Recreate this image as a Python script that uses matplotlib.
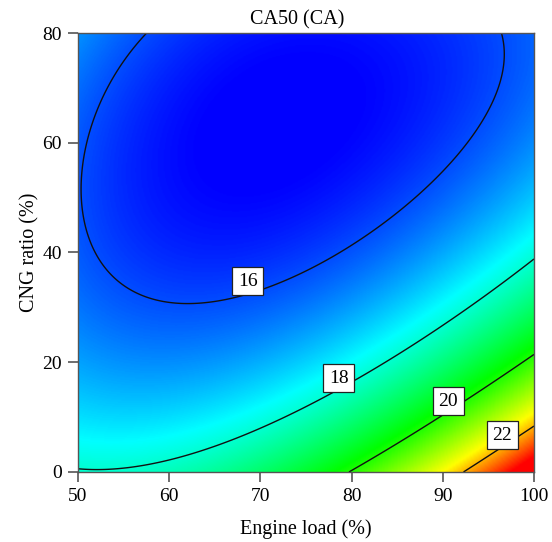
import numpy as np
import matplotlib.pyplot as plt
from matplotlib.colors import LinearSegmentedColormap

plt.rcParams['font.family'] = ['Liberation Serif', 'DejaVu Serif']

# contour lines (engine load %, CNG ratio %)
load_16 = [57.3, 53.5, 51.0, 50.2, 50.6, 52.2, 57.1, 62.3, 70.0, 75.4, 78.0, 85.0, 91.1, 94.1, 95.5, 96.3, 96.7, 96.6]
cng_16 = [80.0, 69.6, 62.3, 53.7, 46.0, 38.6, 33.2, 31.3, 33.5, 36.4, 38.6, 45.5, 56.3, 62.3, 68.3, 71.4, 76.0, 80.0]
load_18 = [50.0, 55.0, 60.1, 65.0, 70.0, 75.4, 80.4, 84.5, 88.9, 94.5, 99.9]
cng_18 = [0.4, 1.0, 2.2, 4.6, 8.0, 11.8, 16.2, 20.2, 24.6, 31.0, 38.6]
load_20 = [80.4, 83.5, 86.4, 91.5, 96.3, 100.0]
cng_20 = [0.0, 4.2, 8.2, 13.0, 18.0, 21.0]
load_22 = [93.2, 96.3, 100.0]
cng_22 = [0.0, 5.8, 8.0]
levels = [16, 18, 20, 22]

# values read from the shading at corners and at the minimum
spot_load = [50, 50, 100, 70]
spot_cng = [80, 0, 0, 58]
spot_val = [16.6, 18.05, 23.0, 15.3]

# label boxes
label_text = ['16', '18', '20', '22']
label_x = [68.6, 78.6, 90.6, 96.5]
label_y = [34.8, 17.1, 12.9, 6.7]

# colour stops (CA value, colour)
stop_vals = [15.3, 17.6, 19.8, 21.6, 23.0]
stop_cols = ['#0000ff', '#00ffff', '#00ff00', '#ffff00', '#ff0000']

xs = np.concatenate([load_16, load_18, load_20, load_22, spot_load])
ys = np.concatenate([cng_16, cng_18, cng_20, cng_22, spot_cng])
zs = np.concatenate([np.full(len(load_16), 16), np.full(len(load_18), 18),
                     np.full(len(load_20), 20), np.full(len(load_22), 22), spot_val])
w = np.ones(len(zs))
w[len(load_16) - 4:len(load_16)] = 4.0
w[-len(spot_val):-1] = 0.4

def terms(x, y):
    u = (np.asarray(x, float) - 75) / 25
    v = (np.asarray(y, float) - 40) / 40
    return np.stack([np.ones_like(u), u, v, u * u, v * v, u * v,
                     u ** 3, v ** 3, u * u * v, u * v * v], axis=-1)

coef, *_ = np.linalg.lstsq(terms(xs, ys) * w[:, None], zs * w, rcond=None)

gx, gy = np.meshgrid(np.linspace(50, 100, 400), np.linspace(0, 80, 400))
gz = terms(gx, gy) @ coef

vmin, vmax = stop_vals[0], stop_vals[-1]
nodes = [(v - vmin) / (vmax - vmin) for v in stop_vals]
cmap = LinearSegmentedColormap.from_list('rsm', list(zip(nodes, stop_cols)))

fig = plt.figure(figsize=(5.52, 5.42), dpi=100)
ax = fig.add_axes([0.1413, 0.1292, 0.8261, 0.8099])

ax.imshow(gz, extent=[50, 100, 0, 80], origin='lower', aspect='auto',
          cmap=cmap, vmin=vmin, vmax=vmax, interpolation='bilinear')
ax.contour(gx, gy, gz, levels=levels, colors='#111111', linewidths=1.0)
for t, lx, ly in zip(label_text, label_x, label_y):
    ax.text(lx, ly, t, fontsize=14, ha='center', va='center', zorder=5,
            bbox=dict(facecolor='white', edgecolor='#222222', linewidth=0.9, pad=4))

ax.set_xlim(50, 100)
ax.set_ylim(0, 80)
ax.set_xticks([50, 60, 70, 80, 90, 100])
ax.set_yticks([0, 20, 40, 60, 80])
ax.tick_params(direction='out', length=7.5, width=1.2, color='#555555', labelsize=14, pad=4)
for s in ax.spines.values():
    s.set_color('#555555')
    s.set_linewidth(1)

ax.set_title('CA50 (CA)', fontsize=14.5, pad=6, x=0.48)
ax.set_xlabel('Engine load (%)', fontsize=14.5, labelpad=10)
ax.set_ylabel('CNG ratio (%)', fontsize=14.5, labelpad=2)

fig.savefig('out.png', dpi=100)
